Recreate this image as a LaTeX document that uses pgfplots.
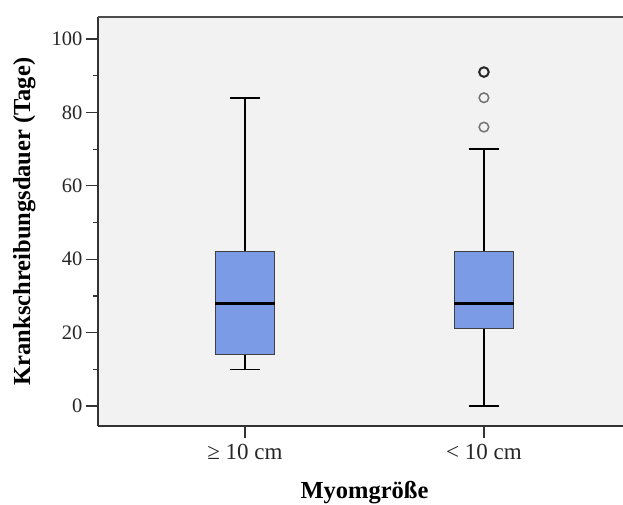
\documentclass[border=0pt]{standalone}
\usepackage{fontspec}
\setmainfont{Liberation Serif}
\usepackage{pgfplots}
\pgfplotsset{compat=1.18}
\definecolor{boxblue}{RGB}{124,155,230}
\definecolor{bgray}{RGB}{242,242,242}
\begin{document}
\begin{tikzpicture}
\begin{axis}[
  at={(0pt,0pt)}, anchor=south west,
  scale only axis,
  width=525pt, height=409pt,
  xmin=0.385, xmax=2.582,
  ymin=-5.45, ymax=106,
  axis lines*=left,
  axis line style={line width=1.4pt, black!80},
  axis background/.style={fill=bgray},
  xtick={1,2},
  xticklabels={≥ 10 cm, < 10 cm},
  ytick={0,20,40,60,80,100},
  minor y tick num=1,
  tick align=outside,
  major tick length=12pt,
  minor tick length=5pt,
  tick style={line width=1.2pt, black!80},
  /pgf/number format/assume math mode=true,
  yticklabel style={font=\fontsize{20.5}{24}\selectfont, text=black!85},
  xticklabel style={font=\fontsize{23}{27}\selectfont, text=black!85, yshift=-3pt},
  xlabel={Myomgröße},
  ylabel={Krankschreibungsdauer (Tage)},
  label style={font=\fontsize{24.5}{29}\selectfont\bfseries},
  xlabel style={at={(axis description cs:0.5076,-0.1345)}, anchor=north, inner sep=0pt},
  ylabel style={at={(axis description cs:-0.1405,0.5)}, anchor=center},
  clip=false,
]
% group 1: >= 10 cm
\addplot[black, line width=1.6pt] coordinates {(1,42) (1,84)};
\addplot[black, line width=1.6pt] coordinates {(1,10) (1,14)};
\addplot[black, line width=1.6pt] coordinates {(0.9375,84) (1.0625,84)};
\addplot[black, line width=1.6pt] coordinates {(0.9375,10) (1.0625,10)};
\addplot[fill=boxblue, draw=black!75, line width=1.1pt] coordinates {(0.875,14) (1.125,14) (1.125,42) (0.875,42)} -- cycle;
\addplot[black, line width=2.8pt] coordinates {(0.875,28) (1.125,28)};
% group 2: < 10 cm
\addplot[black, line width=1.6pt] coordinates {(2,42) (2,70)};
\addplot[black, line width=1.6pt] coordinates {(2,0) (2,21)};
\addplot[black, line width=1.6pt] coordinates {(1.9375,70) (2.0625,70)};
\addplot[black, line width=1.6pt] coordinates {(1.9375,0) (2.0625,0)};
\addplot[fill=boxblue, draw=black!75, line width=1.1pt] coordinates {(1.875,21) (2.125,21) (2.125,42) (1.875,42)} -- cycle;
\addplot[black, line width=2.8pt] coordinates {(1.875,28) (2.125,28)};
\addplot[only marks, mark=o, mark size=4.8pt, mark options={draw=black!55, line width=1.5pt}]
  coordinates {(2,84) (2,76)};
\addplot[only marks, mark=o, mark size=4.8pt, mark options={draw=black!85, line width=2pt}]
  coordinates {(2,91)};
\draw[line width=1.6pt, black!70] (rel axis cs:0,1) -- (rel axis cs:1,1);
\end{axis}
\pgfresetboundingbox
\path[use as bounding box] (-98pt,-78pt) rectangle (525pt,426pt);
\end{tikzpicture}
\end{document}
